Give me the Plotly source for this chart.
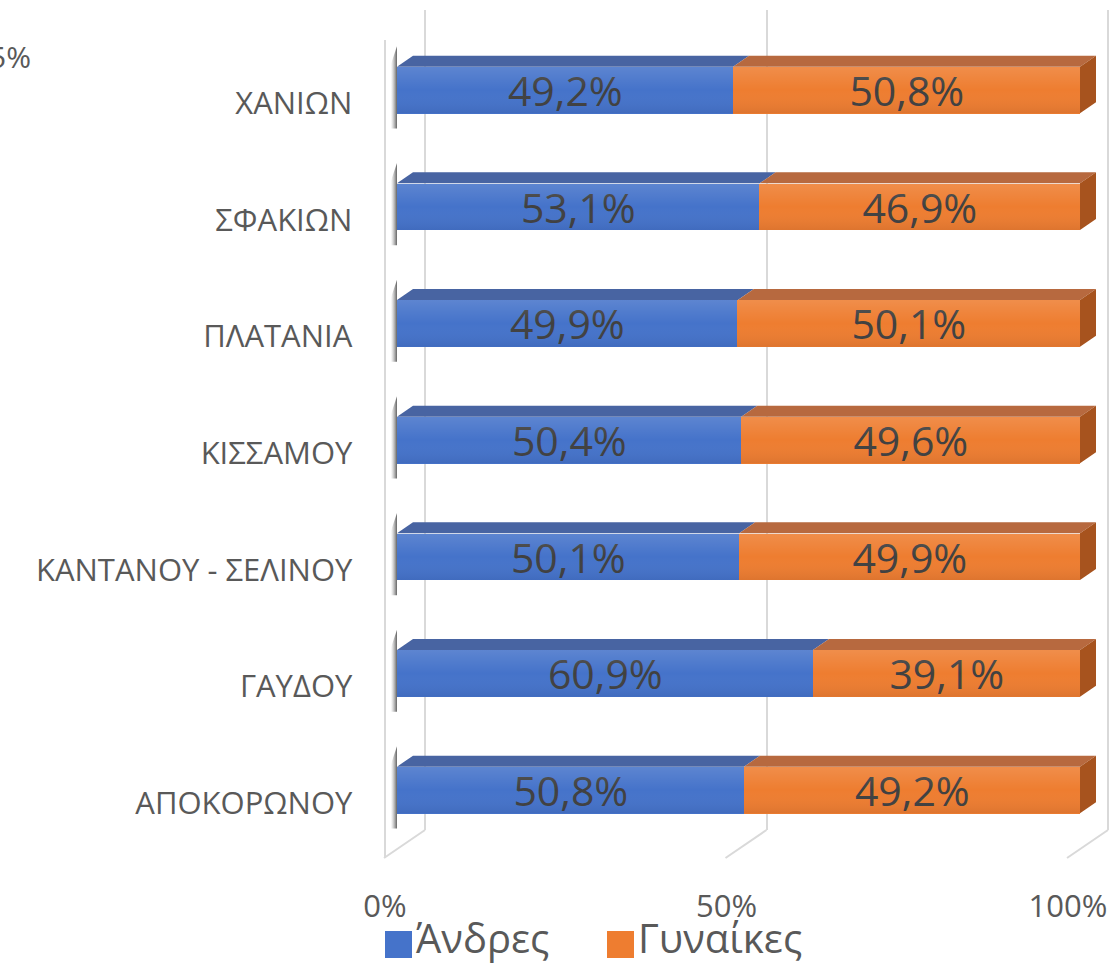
import plotly.graph_objects as go

# ---------------- data ----------------
categories = ["ΧΑΝΙΩΝ", "ΣΦΑΚΙΩΝ", "ΠΛΑΤΑΝΙΑ", "ΚΙΣΣΑΜΟΥ",
              "ΚΑΝΤΑΝΟΥ - ΣΕΛΙΝΟΥ", "ΓΑΥΔΟΥ", "ΑΠΟΚΟΡΩΝΟΥ"]
men = [49.2, 53.1, 49.9, 50.4, 50.1, 60.9, 50.8]
women = [50.8, 46.9, 50.1, 49.6, 49.9, 39.1, 49.2]
series_names = ["Άνδρες", "Γυναίκες"]
x_tick_vals = [0, 50, 100]
x_tick_text = ["0%", "50%", "100%"]

# ---------------- styling / geometry ----------------
W, H = 1112, 966
FONT = "Open Sans"
BLUE, BLUE_TOP = "#4573CA", "#4864A2"
ORANGE, ORANGE_TOP, ORANGE_SIDE = "#EE7D30", "#B7693F", "#A7531E"
GRID = "#D9D9D9"
TXT = "#595959"
LBL = "#404040"

def px(x):
    return x / W

def py(y):
    return 1 - y / H

# bar axis: 6.83 px per percentage point
PPU = 6.83
X0_PIX = 397
XR = [-2, 103]
BAR_W = 0.4
HALF = BAR_W / 2
DXU = 16 / PPU          # depth offset in data units (x)
DYU = 11 / 116.67       # depth offset in data units (y)

# plot bottom->top order
cats = categories[::-1]
m = men[::-1]
w = women[::-1]
idx = list(range(len(cats)))

def fmt(v):
    return f"{v:.1f}%".replace(".", ",")

fig = go.Figure()

# dummy trace to create the back-wall grid subplot
fig.add_trace(go.Scatter(x=[0, 100], y=[0, 1], mode="none", showlegend=False,
                         hoverinfo="skip", xaxis="x", yaxis="y"))

# shadows on the left wall
for i in idx:
    fig.add_trace(go.Scatter(
        x=[-0.9, 0, 0, -0.9, -0.9],
        y=[i - HALF - 0.13, i - HALF - 0.13, i + HALF + DYU + 0.08, i + HALF + 0.02, i - HALF - 0.13],
        mode="lines", line=dict(width=0), fill="toself",
        fillgradient=dict(type="horizontal",
                          colorscale=[[0, "rgba(140,140,140,0)"], [1, "rgba(60,60,60,0.8)"]]),
        showlegend=False, hoverinfo="skip", xaxis="x2", yaxis="y2"))

# front faces (bars)
fig.add_trace(go.Bar(
    y=idx, x=m, orientation="h", width=BAR_W, name=series_names[0],
    marker=dict(color=BLUE, line=dict(width=0)),
    text=[fmt(v) for v in m], textposition="inside", insidetextanchor="middle",
    constraintext="none", textfont=dict(family=FONT, size=41, color=LBL),
    showlegend=False, xaxis="x2", yaxis="y2"))
fig.add_trace(go.Bar(
    y=idx, x=w, orientation="h", width=BAR_W, name=series_names[1],
    marker=dict(color=ORANGE, line=dict(width=0)),
    text=[fmt(v) for v in w], textposition="inside", insidetextanchor="middle",
    constraintext="none", textfont=dict(family=FONT, size=41, color=LBL),
    showlegend=False, xaxis="x2", yaxis="y2"))

# subtle vertical shading over each front face
for i, a, b in zip(idx, m, w):
    end = a + b
    fig.add_trace(go.Scatter(
        x=[0, end, end, 0, 0], y=[i - HALF, i - HALF, i + HALF, i + HALF, i - HALF],
        mode="lines", line=dict(width=0), fill="toself",
        fillgradient=dict(type="vertical",
                          colorscale=[[0, "rgba(0,0,30,0.07)"], [0.5, "rgba(255,255,255,0)"],
                                      [1, "rgba(255,255,255,0.13)"]]),
        showlegend=False, hoverinfo="skip", xaxis="x2", yaxis="y2"))

# top faces and right end faces
bx, by, ox, oy, sx, sy = [], [], [], [], [], []
for i, a, b in zip(idx, m, w):
    t = i + HALF
    bx += [0, a, a + DXU, DXU, 0, None]
    by += [t, t, t + DYU, t + DYU, t, None]
    end = a + b
    ox += [a, end, end + DXU, a + DXU, a, None]
    oy += [t, t, t + DYU, t + DYU, t, None]
    sx += [end, end, end + DXU, end + DXU, end, None]
    sy += [i - HALF, i + HALF, i + HALF + DYU, i - HALF + DYU, i - HALF, None]

for xs, ys, col in [(bx, by, BLUE_TOP), (ox, oy, ORANGE_TOP), (sx, sy, ORANGE_SIDE)]:
    fig.add_trace(go.Scatter(x=xs, y=ys, mode="lines", line=dict(width=0),
                             fill="toself", fillcolor=col, showlegend=False,
                             hoverinfo="skip", xaxis="x2", yaxis="y2"))

# ---------------- layout ----------------
grid_bottom, grid_top = 830, 10
floor_front = 858
GR = [-7, 100.5]                    # back wall axis (pad so end gridlines / floor lines are kept)
g_left = 425 + GR[0] * PPU
g_right = 425 + GR[1] * PPU
x2_left = X0_PIX + XR[0] * PPU
x2_right = X0_PIX + XR[1] * PPU

shapes = []
for v in x_tick_vals:
    shapes.append(dict(type="line", xref="x", xsizemode="pixel", xanchor=v,
                       x0=0, x1=-41, yref="paper", y0=py(grid_bottom), y1=py(floor_front),
                       line=dict(color=GRID, width=2), layer="below"))
shapes.append(dict(type="line", xref="x", xsizemode="pixel", xanchor=0,
                   x0=-40, x1=-40, yref="paper", y0=py(floor_front), y1=py(40),
                   line=dict(color=GRID, width=2), layer="below"))
# legend swatches
shapes.append(dict(type="rect", xref="paper", yref="paper",
                   x0=px(385), x1=px(412), y0=py(958), y1=py(931),
                   fillcolor=BLUE, line=dict(width=0)))
shapes.append(dict(type="rect", xref="paper", yref="paper",
                   x0=px(607), x1=px(634), y0=py(958), y1=py(931),
                   fillcolor=ORANGE, line=dict(width=0)))

annotations = [
    dict(text=series_names[0], xref="paper", yref="paper", x=px(415), y=0,
         xanchor="left", yanchor="bottom", showarrow=False, borderpad=0,
         font=dict(family=FONT, size=40, color=TXT)),
    dict(text=series_names[1], xref="paper", yref="paper", x=px(637), y=0,
         xanchor="left", yanchor="bottom", showarrow=False, borderpad=0,
         font=dict(family=FONT, size=40, color=TXT)),
    dict(text="5%", xref="paper", yref="paper", x=px(33), y=py(56),
         xanchor="right", yanchor="middle", showarrow=False,
         font=dict(family=FONT, size=30, color=TXT)),
]

fig.update_layout(
    width=W, height=H,
    margin=dict(l=0, r=0, t=0, b=0, autoexpand=False),
    paper_bgcolor="white", plot_bgcolor="rgba(0,0,0,0)",
    barmode="stack", bargap=0,
    showlegend=False,
    xaxis=dict(domain=[px(g_left), px(g_right)], range=GR, anchor="y",
               tickvals=x_tick_vals, showticklabels=False, ticks="",
               showgrid=True, gridcolor=GRID, gridwidth=2, zeroline=False,
               showline=False, fixedrange=True, automargin=False),
    yaxis=dict(domain=[py(grid_bottom), py(grid_top)], range=[0, 1], anchor="x",
               visible=False, fixedrange=True, automargin=False),
    xaxis2=dict(domain=[px(x2_left), px(x2_right)], range=XR, anchor="y2",
                tickvals=x_tick_vals, ticktext=x_tick_text, ticks="",
                showgrid=False, zeroline=False, showline=False,
                ticklabelshift=-12, ticklabelstandoff=37, automargin=False,
                tickfont=dict(family=FONT, size=31, color=TXT), fixedrange=True),
    yaxis2=dict(domain=[py(848.33), py(31.67)], range=[-0.5, 6.5], anchor="x2",
                tickvals=idx, ticktext=cats, ticks="",
                showgrid=False, zeroline=False, showline=False,
                ticklabelshift=13, ticklabelstandoff=30, automargin=False,
                tickfont=dict(family=FONT, size=31, color=TXT), fixedrange=True),
    shapes=shapes,
    annotations=annotations,
)

fig.write_html("out.html", config={"displayModeBar": False},
               post_script="document.body.style.margin='0';")
